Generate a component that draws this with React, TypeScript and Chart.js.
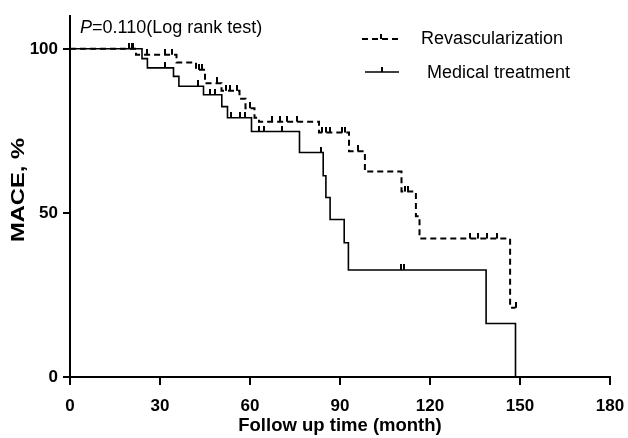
import React, { useEffect, useRef } from "react";
import { Chart, registerables } from "chart.js";

Chart.register(...registerables);

const xTickValues = [0, 30, 60, 90, 120, 150, 180];
const yTickValues = [0, 50, 100];

const revascTimes = [0, 22, 35.5, 42, 45, 50.5, 56.5, 58.5, 61.5, 63, 83, 93, 98.3, 110.5, 115.3, 116.5, 146.7, 148.5];
const revascSurvival = [100, 98.2, 95.8, 93.6, 89.5, 87.2, 84.8, 81.9, 79, 77.8, 74.5, 68.8, 62.6, 56.5, 49, 42.2, 21.1, 21.1];
const revascCensorTimes = [19.5, 21, 25.6, 31.7, 33.9, 43, 44, 48.9, 52, 53.3, 55.5, 60, 67.2, 70, 72.2, 75.6, 84, 85.3, 86.7, 90.6, 91.7, 96.1, 111.5, 112.7, 133.3, 136.1, 138.9, 142.2, 148.5];

const medicalTimes = [0, 24, 25.8, 34.5, 36.3, 44.5, 50.6, 52.5, 60.5, 76.5, 84.4, 85.3, 86.7, 91.4, 92.8, 138.7, 148.5];
const medicalSurvival = [100, 97, 94.2, 91.6, 88.6, 86, 82.4, 79, 74.8, 68.4, 61.3, 54.7, 48, 40.9, 32.6, 16.3, 0];
const medicalCensorTimes = [20.5, 31.5, 42.5, 46.7, 48.3, 53.8, 56.7, 58.3, 63, 64.7, 70.6, 83.7, 110.3, 111.3];

const seriesLabels = ["Revascularization", "Medical treatment"];
const xTitle = "Follow up time (month)";
const yTitle = "MACE, %";
const pLetter = "P";
const pRest = "=0.110(Log rank test)";

const FONT = '"Liberation Sans", Arial, sans-serif';

function levelAt(times: number[], surv: number[], t: number) {
  let v = surv[0];
  for (let i = 0; i < times.length; i++) if (times[i] <= t) v = surv[i];
  return v;
}

function tickImage() {
  const c = document.createElement("canvas");
  c.width = 2;
  c.height = 12;
  const g = c.getContext("2d")!;
  g.fillStyle = "#000";
  g.fillRect(0, 0, 2, 6);
  return c;
}

const overlayPlugin = {
  id: "overlay",
  afterDraw(chart: any) {
    const ctx = chart.ctx as CanvasRenderingContext2D;
    ctx.save();
    ctx.fillStyle = "#000";
    ctx.strokeStyle = "#000";
    // P value annotation
    ctx.textBaseline = "alphabetic";
    ctx.textAlign = "left";
    ctx.font = `italic 18px ${FONT}`;
    ctx.fillText(pLetter, 80, 33);
    const pw = ctx.measureText(pLetter).width;
    ctx.font = `18px ${FONT}`;
    ctx.fillText(pRest, 80 + pw, 33);

    // legend
    ctx.lineWidth = 2;
    ctx.setLineDash([6, 4]);
    ctx.beginPath();
    ctx.moveTo(362, 39);
    ctx.lineTo(402, 39);
    ctx.stroke();
    ctx.setLineDash([]);
    ctx.fillRect(380, 34, 2, 5);
    ctx.lineWidth = 1.6;
    ctx.beginPath();
    ctx.moveTo(365, 72);
    ctx.lineTo(399, 72);
    ctx.stroke();
    ctx.fillRect(381, 67, 2, 5);
    ctx.textBaseline = "middle";
    ctx.font = `18px ${FONT}`;
    ctx.fillText(seriesLabels[0], 421, 39);
    ctx.fillText(seriesLabels[1], 427, 73);

    // y title
    ctx.font = `bold 18px ${FONT}`;
    const w = ctx.measureText(yTitle).width;
    ctx.translate(19, 190);
    ctx.rotate(-Math.PI / 2);
    ctx.scale(104 / w, 1);
    ctx.textAlign = "center";
    ctx.fillText(yTitle, 0, 0);
    ctx.restore();
  },
};

export default function App() {
  const ref = useRef<HTMLCanvasElement>(null);
  useEffect(() => {
    const canvas = ref.current!;
    const tick = tickImage();
    const line = (t: number[], s: number[]) => t.map((x, i) => ({ x, y: s[i] }));
    const cens = (c: number[], t: number[], s: number[]) => c.map((x) => ({ x, y: levelAt(t, s, x) }));
    const chart = new Chart(canvas, {
      type: "line",
      data: {
        datasets: [
          {
            label: seriesLabels[0],
            data: line(revascTimes, revascSurvival),
            stepped: true,
            borderColor: "#000",
            borderWidth: 2,
            borderDash: [6, 4],
            pointRadius: 0,
            fill: false,
          },
          {
            label: seriesLabels[1],
            data: line(medicalTimes, medicalSurvival),
            stepped: true,
            borderColor: "#000",
            borderWidth: 1.6,
            pointRadius: 0,
            fill: false,
          },
          {
            label: seriesLabels[0] + " censored",
            data: cens(revascCensorTimes, revascTimes, revascSurvival),
            showLine: false,
            pointStyle: tick as any,
            pointRadius: 6,
          },
          {
            label: seriesLabels[1] + " censored",
            data: cens(medicalCensorTimes, medicalTimes, medicalSurvival),
            showLine: false,
            pointStyle: tick as any,
            pointRadius: 6,
          },
        ],
      },
      options: {
        animation: false,
        responsive: false,
        devicePixelRatio: 1,
        layout: { padding: { left: 0, top: 16, right: 18, bottom: 0 } },
        plugins: { legend: { display: false }, tooltip: { enabled: false } },
        scales: {
          x: {
            type: "linear",
            min: 0,
            max: 180,
            afterBuildTicks: (s: any) => {
              s.ticks = xTickValues.map((v) => ({ value: v }));
            },
            afterFit: (s: any) => {
              s.height = 61;
              s.paddingLeft = 0;
              s.paddingRight = 0;
            },
            ticks: { color: "#000", font: { family: FONT, size: 17, weight: "bold" }, padding: 11, maxRotation: 0 },
            grid: { display: true, drawOnChartArea: false, drawTicks: true, tickLength: 8, color: "#000", lineWidth: 2 },
            border: { display: true, color: "#000", width: 2 },
            title: {
              display: true,
              text: xTitle,
              color: "#000",
              font: { family: FONT, size: 18.5, weight: "bold" },
              padding: { top: 2, bottom: 1 },
            },
          },
          y: {
            type: "linear",
            min: 0,
            max: 110,
            afterBuildTicks: (s: any) => {
              s.ticks = yTickValues.map((v) => ({ value: v }));
            },
            afterFit: (s: any) => {
              s.width = 70;
              s.paddingTop = 0;
              s.paddingBottom = 0;
            },
            ticks: { color: "#000", font: { family: FONT, size: 17, weight: "bold" }, padding: 5 },
            grid: { display: true, drawOnChartArea: false, drawTicks: true, tickLength: 7, color: "#000", lineWidth: 2 },
            border: { display: true, color: "#000", width: 2 },
          },
        },
      },
      plugins: [overlayPlugin],
    });
    return () => chart.destroy();
  }, []);
  return (
    <div style={{ position: "fixed", left: 0, top: 0, width: 628, height: 438, background: "#fff" }}>
      <canvas ref={ref} width={628} height={438} style={{ display: "block" }} />
    </div>
  );
}
